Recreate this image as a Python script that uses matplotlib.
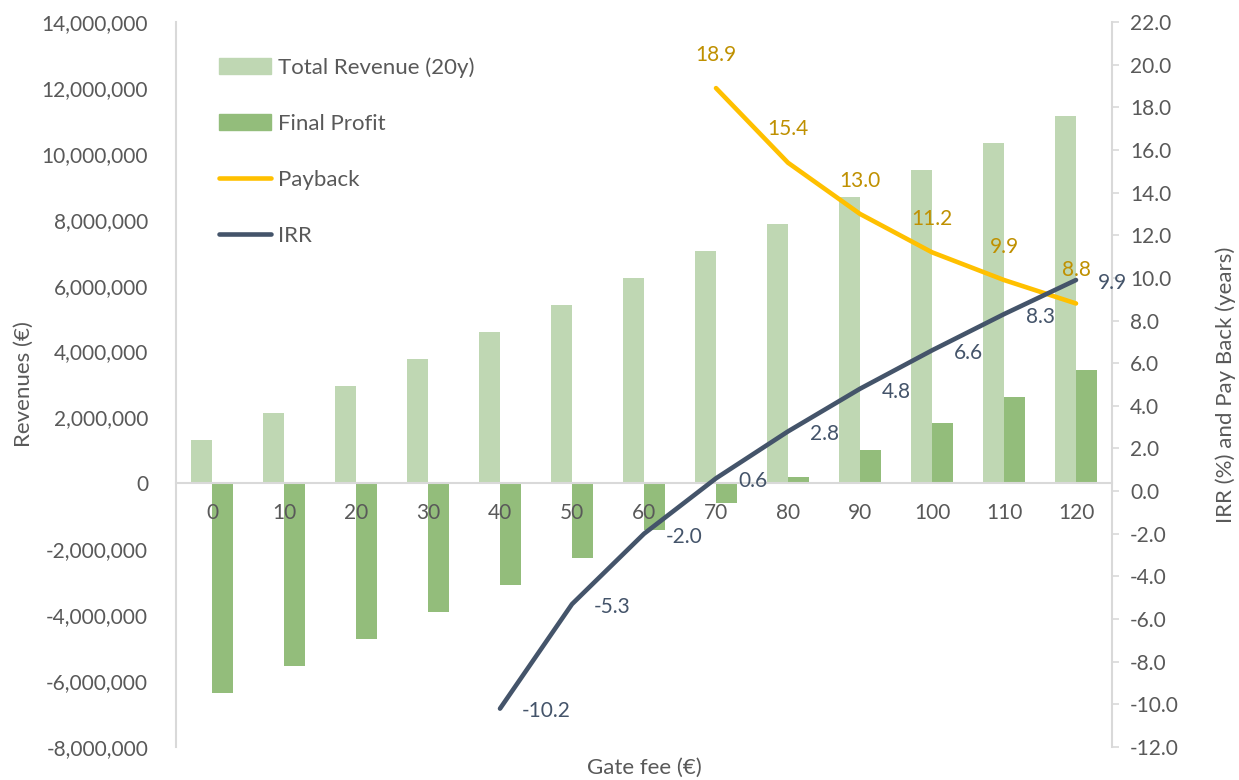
import matplotlib
matplotlib.use("Agg")
import matplotlib.pyplot as plt
from matplotlib.patches import Patch
from matplotlib.lines import Line2D
from matplotlib.ticker import FuncFormatter, MultipleLocator
import numpy as np

plt.rcParams['font.family'] = ['Lato', 'DejaVu Sans']

# data
gate_fee = [0, 10, 20, 30, 40, 50, 60, 70, 80, 90, 100, 110, 120]
total_revenue = [1.32e6, 2.13e6, 2.95e6, 3.77e6, 4.60e6, 5.42e6, 6.24e6,
                 7.06e6, 7.88e6, 8.70e6, 9.52e6, 10.33e6, 11.15e6]
final_profit = [-6.35e6, -5.55e6, -4.72e6, -3.90e6, -3.09e6, -2.25e6, -1.43e6,
                -0.61e6, 0.18e6, 1.00e6, 1.82e6, 2.63e6, 3.45e6]
payback_fee = [70, 80, 90, 100, 110, 120]
payback = [18.9, 15.4, 13.0, 11.2, 9.9, 8.8]
irr_fee = [40, 50, 60, 70, 80, 90, 100, 110, 120]
irr = [-10.2, -5.3, -2.0, 0.6, 2.8, 4.8, 6.6, 8.3, 9.9]

TXT = '#595959'
GRID = '#D9D9D9'
C_REV = '#BFD7B3'
C_PROF = '#93BD7B'
C_PAY = '#FFC000'
C_PAY_TXT = '#BF9000'
C_IRR = '#44546A'
FS = 15
FS_LAB = 16

fig = plt.figure(figsize=(12.39, 7.8), dpi=100)
ax = fig.add_axes([176 / 1239, 1 - 747 / 780, (1112 - 176) / 1239, 725 / 780])

x = np.arange(len(gate_fee))
w = 0.285
ax.bar(x - w / 2, total_revenue, w, color=C_REV, zorder=2)
ax.bar(x + w / 2, final_profit, w, color=C_PROF, zorder=2)
ax.set_axisbelow(False)  # category labels sit on top of the bars

ax.set_xlim(-0.5, len(gate_fee) - 0.5)
ax.set_ylim(-8e6, 14e6)
ax.yaxis.set_major_locator(MultipleLocator(2e6))
ax.yaxis.set_major_formatter(FuncFormatter(lambda v, p: f'{v:,.0f}'))
ax.set_xticks(x)
ax.set_xticklabels([str(g) for g in gate_fee])
ax.spines['bottom'].set_position(('data', 0))
ax.spines['bottom'].set_color(GRID)
ax.spines['bottom'].set_linewidth(1.5)
ax.spines['left'].set_color(GRID)
ax.spines['left'].set_linewidth(1.5)
ax.spines['top'].set_visible(False)
ax.spines['right'].set_visible(False)
ax.tick_params(axis='x', length=0, pad=14, labelsize=FS, labelcolor=TXT)
ax.tick_params(axis='y', length=0, pad=20, labelsize=FS, labelcolor=TXT)
ax.set_ylabel('Revenues (€)', fontsize=FS_LAB, color=TXT, labelpad=6)
fig.text(644 / 1239, 1 - 768 / 780, 'Gate fee (€)', fontsize=FS_LAB, color=TXT,
         ha='center', va='center')

ax2 = ax.twinx()
ax2.set_ylim(-12, 22)
ax2.yaxis.set_major_locator(MultipleLocator(2))
ax2.yaxis.set_major_formatter(FuncFormatter(lambda v, p: f'{v:.1f}'))
for s in ['top', 'left', 'bottom']:
    ax2.spines[s].set_visible(False)
ax2.spines['right'].set_color(GRID)
ax2.spines['right'].set_linewidth(1.5)
ax2.tick_params(axis='y', length=5, width=1.2, color=GRID, pad=8,
                labelsize=FS, labelcolor=TXT)
ax2.set_ylabel('IRR (%) and Pay Back (years)', fontsize=FS_LAB, color=TXT, labelpad=26)

px_pay = [gate_fee.index(g) for g in payback_fee]
px_irr = [gate_fee.index(g) for g in irr_fee]
ax2.plot(px_pay, payback, color=C_PAY, lw=3.3, solid_capstyle='round', zorder=3)
ax2.plot(px_irr, irr, color=C_IRR, lw=3.3, solid_capstyle='round', zorder=4)

for xi, v in zip(px_pay, payback):
    ax2.annotate(f'{v:.1f}', (xi, v), xytext=(0, 24), textcoords='offset points',
                 ha='center', va='center', fontsize=FS, color=C_PAY_TXT, zorder=5)
for xi, v in zip(px_irr, irr):
    ax2.annotate(f'{v:.1f}', (xi, v), xytext=(16, -2), textcoords='offset points',
                 ha='left', va='center', fontsize=FS, color=C_IRR, zorder=5)

handles = [Patch(color=C_REV), Patch(color=C_PROF),
           Line2D([], [], color=C_PAY, lw=3.3, solid_capstyle='round'),
           Line2D([], [], color=C_IRR, lw=3.3, solid_capstyle='round')]
labels = ['Total Revenue (20y)', 'Final Profit', 'Payback', 'IRR']
fig.legend(handles, labels, loc='upper left', bbox_to_anchor=(219 / 1239, 1 - 57 / 780),
           frameon=False, fontsize=FS_LAB, labelcolor=TXT, labelspacing=1.62,
           handlelength=2.35, handletextpad=0.3, borderpad=0, borderaxespad=0)

fig.savefig('out.png', dpi=100)
